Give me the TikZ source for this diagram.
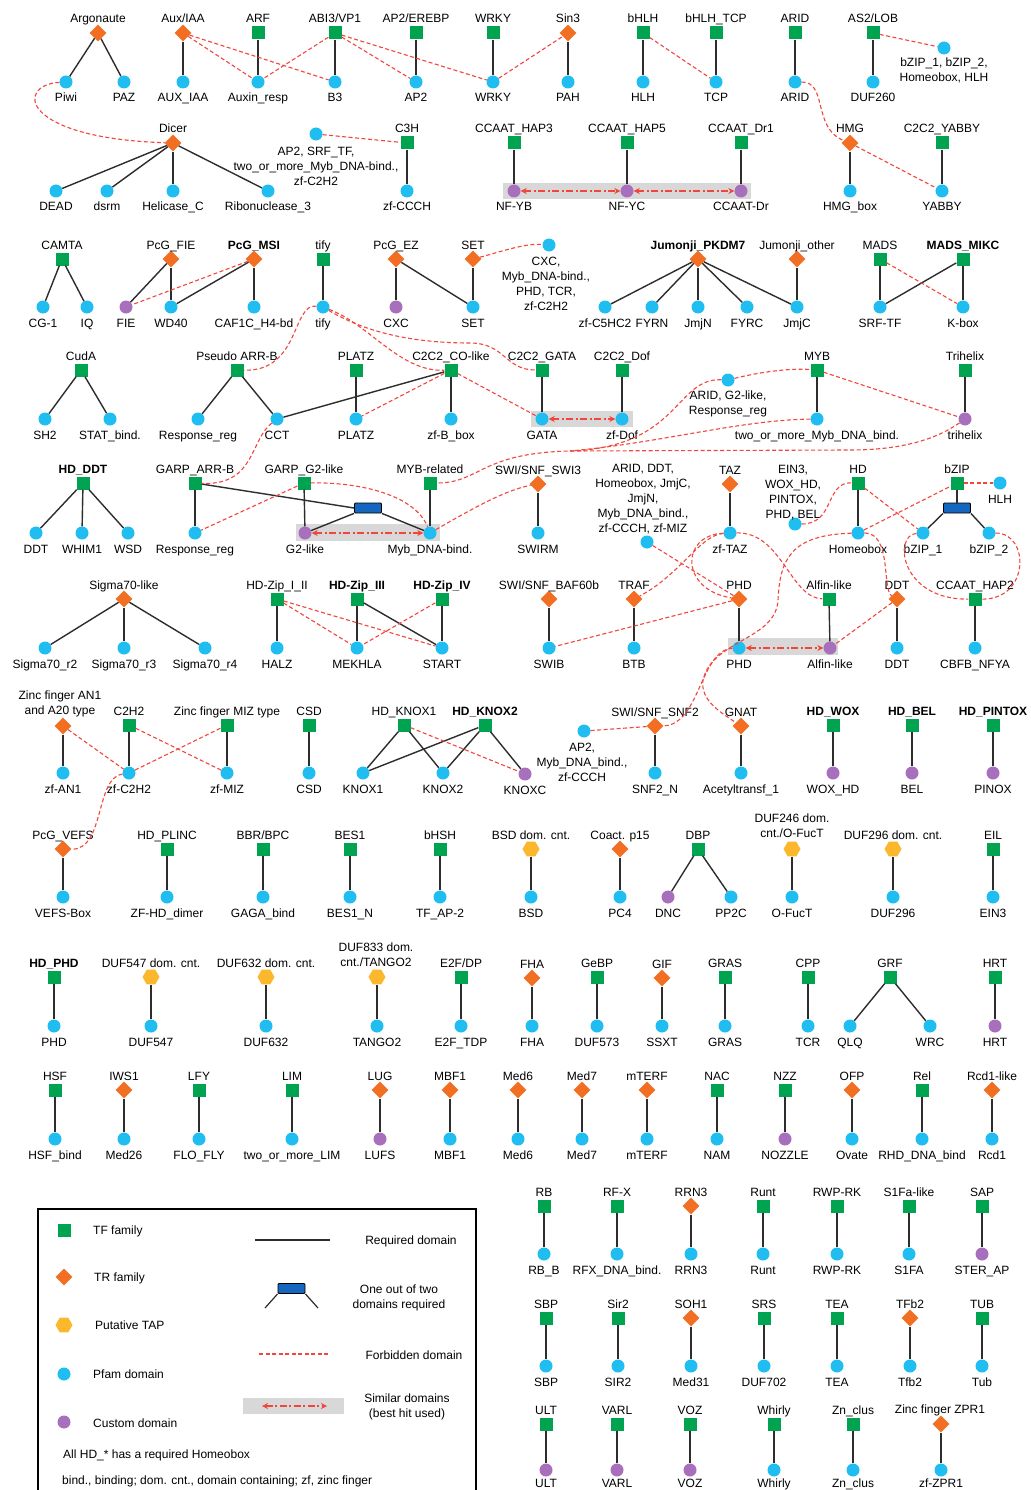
\documentclass[tikz,border=0pt]{standalone}
\usepackage{fontspec}
\setmainfont{Liberation Sans}
\usetikzlibrary{shapes.geometric,arrows.meta}
\definecolor{cTF}{RGB}{0,163,80}
\definecolor{cTR}{RGB}{242,110,34}
\definecolor{cTAP}{RGB}{252,184,44}
\definecolor{cPF}{RGB}{32,190,240}
\definecolor{cCU}{RGB}{168,112,188}
\definecolor{cREQ}{RGB}{45,45,45}
\definecolor{cFB}{RGB}{242,70,60}
\definecolor{cBand}{RGB}{216,216,216}
\definecolor{cOne}{RGB}{20,102,190}
\newcommand{\lblfont}{\fontsize{12}{15}\selectfont}
\newcommand{\Fam}[5]{\node[#2] (#1) at (#3,#4) {}; \node[lbl] (#1l) at (#3,#4-10) {#5};}
\newcommand{\Dom}[5]{\node[#2] (#1) at (#3,#4) {}; \node[lbl] (#1l) at (#3,#4+20) {#5};}
\newcommand{\DomB}[5]{\node[#2] (#1) at (#3,#4) {}; \node[lbl] (#1l) at (#3,#4+17) {#5};}
\tikzset{
 nTF/.style={rectangle, fill=cTF, minimum size=13pt, inner sep=0pt},
 nTR/.style={diamond, fill=cTR, minimum size=17pt, inner sep=0pt},
 nTAP/.style={regular polygon, regular polygon sides=6, fill=cTAP, minimum size=17pt, inner sep=0pt},
 nPF/.style={circle, fill=cPF, minimum size=13pt, inner sep=0pt},
 nCU/.style={circle, fill=cCU, minimum size=13pt, inner sep=0pt},
 lbl/.style={font=\lblfont, inner sep=0pt, anchor=base},
 mlbl/.style={font=\lblfont, inner sep=0pt, align=center, anchor=north},
 req/.style={draw=cREQ, line width=1.4pt},
 forb/.style={draw=cFB, line width=1.1pt, dash pattern=on 4pt off 2.5pt},
 sim/.style={draw=cFB, line width=1.6pt, dash pattern=on 7pt off 2.5pt on 2pt off 2.5pt, {Stealth[length=6pt,width=6pt]}-{Stealth[length=6pt,width=6pt]}},
 oneof/.style={rectangle, draw=black, fill=cOne, minimum width=27pt, minimum height=10pt, inner sep=0pt, rounded corners=1pt, line width=0.8pt},
}
\begin{document}
\catcode`\_=12
\begin{tikzpicture}[x=1pt,y=-1pt]
\useasboundingbox (0,0) rectangle (1030,1490);
\fill[white] (0,0) rectangle (1030,1490);
% similarity bands
\fill[cBand] (503,183) rectangle (751,199);
\fill[cBand] (531,411) rectangle (633,427);
\fill[cBand] (296,524) rectangle (440,541);
\fill[cBand] (728,638) rectangle (838,655);

% ---------- Row A
\Fam{ago}{nTR}{98}{33}{Argonaute}
\Dom{piwi}{nPF}{66}{82}{Piwi}
\Dom{paz}{nPF}{124}{82}{PAZ}
\Fam{auxiaa}{nTR}{183}{33}{Aux/IAA}
\Dom{dauxiaa}{nPF}{183}{82}{AUX_IAA}
\Fam{arf}{nTF}{258}{33}{ARF}
\Dom{auxresp}{nPF}{258}{82}{Auxin_resp}
\Fam{abi}{nTF}{335}{33}{ABI3/VP1}
\Dom{bthree}{nPF}{335}{82}{B3}
\Fam{ereb}{nTF}{416}{33}{AP2/EREBP}
\Dom{aptwo}{nPF}{416}{82}{AP2}
\Fam{wrky}{nTF}{493}{33}{WRKY}
\Dom{dwrky}{nPF}{493}{82}{WRKY}
\Fam{sin}{nTR}{568}{33}{Sin3}
\Dom{pah}{nPF}{568}{82}{PAH}
\Fam{bhlh}{nTF}{643}{33}{bHLH}
\Dom{hlh}{nPF}{643}{82}{HLH}
\Fam{tcp}{nTF}{716}{33}{bHLH_TCP}
\Dom{dtcp}{nPF}{716}{82}{TCP}
\Fam{arid}{nTF}{795}{33}{ARID}
\Dom{darid}{nPF}{795}{82}{ARID}
\Fam{lob}{nTF}{873}{33}{AS2/LOB}
\Dom{duf260}{nPF}{873}{82}{DUF260}
\node[nPF] (lobx) at (944,48) {};
\node[mlbl] (lobxl) at (944,58) {bZIP_1, bZIP_2,\\Homeobox, HLH};

% ---------- Row B
\Fam{dicer}{nTR}{173}{143}{Dicer}
\Dom{dead}{nPF}{56}{191}{DEAD}
\Dom{dsrm}{nPF}{107}{191}{dsrm}
\Dom{helic}{nPF}{173}{191}{Helicase_C}
\Dom{ribo}{nPF}{268}{191}{Ribonuclease_3}
\node[nPF] (cthx) at (316,134) {};
\node[mlbl] (cthxl) at (316,147) {AP2, SRF_TF,\\two_or_more_Myb_DNA-bind.,\\zf-C2H2};
\Fam{cth}{nTF}{407}{143}{C3H}
\Dom{zfccch}{nPF}{407}{191}{zf-CCCH}
\Fam{hapthree}{nTF}{514}{143}{CCAAT_HAP3}
\Dom{nfyb}{nCU}{514}{191}{NF-YB}
\Fam{hapfive}{nTF}{627}{143}{CCAAT_HAP5}
\Dom{nfyc}{nCU}{627}{191}{NF-YC}
\Fam{drone}{nTF}{741}{143}{CCAAT_Dr1}
\Dom{ccaatdr}{nCU}{741}{191}{CCAAT-Dr}
\Fam{hmg}{nTR}{850}{143}{HMG}
\Dom{hmgbox}{nPF}{850}{191}{HMG_box}
\Fam{yabby}{nTF}{942}{143}{C2C2_YABBY}
\Dom{dyabby}{nPF}{942}{191}{YABBY}

% ---------- Row C
\Fam{camta}{nTF}{62}{259}{CAMTA}
\Dom{cgone}{nPF}{43}{307}{CG-1}
\Dom{iq}{nPF}{87}{307}{IQ}
\Fam{fief}{nTR}{171}{259}{PcG_FIE}
\Dom{fie}{nCU}{126}{307}{FIE}
\Dom{wd}{nPF}{171}{307}{WD40}
\Fam{msi}{nTR}{254}{259}{\textbf{PcG_MSI}}
\Dom{caf}{nPF}{254}{307}{CAF1C_H4-bd}
\Fam{tify}{nTF}{323}{259}{tify}
\Dom{dtify}{nPF}{323}{307}{tify}
\Fam{ez}{nTR}{396}{259}{PcG_EZ}
\Dom{cxc}{nCU}{396}{307}{CXC}
\Fam{setf}{nTR}{473}{259}{SET}
\Dom{dset}{nPF}{473}{307}{SET}
\node[nPF] (setx) at (549,245) {};
\node[mlbl] (setxl) at (546,256.5) {CXC,\\Myb_DNA-bind.,\\PHD, TCR,\\zf-C2H2};
\Fam{pkdm}{nTR}{698}{259}{\textbf{Jumonji_PKDM7}}
\Dom{zfc}{nPF}{605}{307}{zf-C5HC2}
\Dom{fyrn}{nPF}{652}{307}{FYRN}
\Dom{jmjn}{nPF}{698}{307}{JmjN}
\Dom{fyrc}{nPF}{747}{307}{FYRC}
\Dom{jmjc}{nPF}{797}{307}{JmjC}
\Fam{jother}{nTR}{797}{259}{Jumonji_other}
\Fam{mads}{nTF}{880}{259}{MADS}
\Dom{srf}{nPF}{880}{307}{SRF-TF}
\Fam{mikc}{nTF}{963}{259}{\textbf{MADS_MIKC}}
\Dom{kbox}{nPF}{963}{307}{K-box}

% ---------- Row D
\Fam{cuda}{nTF}{81}{370}{CudA}
\Dom{shtwo}{nPF}{45}{419}{SH2}
\Dom{stat}{nPF}{110}{419}{STAT_bind.}
\Fam{parrb}{nTF}{237}{370}{Pseudo ARR-B}
\Dom{rrone}{nPF}{198}{419}{Response_reg}
\Dom{cct}{nPF}{277}{419}{CCT}
\Fam{platz}{nTF}{356}{370}{PLATZ}
\Dom{dplatz}{nPF}{356}{419}{PLATZ}
\Fam{coco}{nTF}{451}{370}{C2C2_CO-like}
\Dom{bbox}{nPF}{451}{419}{zf-B_box}
\Fam{gata}{nTF}{542}{370}{C2C2_GATA}
\Dom{dgata}{nPF}{542}{419}{GATA}
\Fam{dof}{nTF}{622}{370}{C2C2_Dof}
\Dom{ddof}{nPF}{622}{419}{zf-Dof}
\node[nPF] (mybx) at (728,380) {};
\node[mlbl] (mybxl) at (728,390.5) {ARID, G2-like,\\Response_reg};
\Fam{myb}{nTF}{817}{370}{MYB}
\Dom{dmyb}{nPF}{817}{419}{two_or_more_Myb_DNA_bind.}
\Fam{trih}{nTF}{965}{370}{Trihelix}
\Dom{dtrih}{nCU}{965}{419}{trihelix}

% ---------- Row E
\Fam{hdddt}{nTF}{83}{483}{\textbf{HD_DDT}}
\Dom{ddt}{nPF}{36}{533}{DDT}
\Dom{whim}{nPF}{82}{533}{WHIM1}
\Dom{wsd}{nPF}{128}{533}{WSD}
\Fam{garrb}{nTF}{195}{483}{GARP_ARR-B}
\Dom{rrtwo}{nPF}{195}{533}{Response_reg}
\Fam{gtwo}{nTF}{304}{483}{GARP_G2-like}
\Dom{dgtwo}{nCU}{305}{533}{G2-like}
\node[oneof] (orone) at (368,508) {};
\Fam{mybrel}{nTF}{430}{483}{MYB-related}
\Dom{mybdb}{nPF}{430}{533}{Myb_DNA-bind.}
\Fam{swithree}{nTR}{538}{484}{SWI/SNF_SWI3}
\Dom{swirm}{nPF}{538}{533}{SWIRM}
\node[nPF] (phdx) at (647,542) {};
\node[mlbl] (phdxl) at (643,464.5) {ARID, DDT,\\Homeobox, JmjC,\\JmjN,\\Myb_DNA_bind.,\\zf-CCCH, zf-MIZ};
\Fam{taz}{nTR}{730}{484}{TAZ}
\Dom{ztaz}{nPF}{730}{533}{zf-TAZ}
\node[nPF] (hdx) at (795,524) {};
\node[mlbl] (hdxl) at (793,464.5) {EIN3,\\WOX_HD,\\PINTOX,\\PHD, BEL};
\Fam{hd}{nTF}{858}{483}{HD}
\Dom{homeo}{nPF}{858}{533}{Homeobox}
\Fam{bzip}{nTF}{957}{483}{bZIP}
\node[oneof] (ortwo) at (957,508) {};
\Dom{bzipone}{nPF}{923}{533}{bZIP_1}
\Dom{bziptwo}{nPF}{989}{533}{bZIP_2}
\node[nPF] (hlhx) at (1000,483) {};
\node[lbl] (hlhxl) at (1000,503) {HLH};

% ---------- Row F
\Fam{sigma}{nTR}{124}{599}{Sigma70-like}
\Dom{rtwo}{nPF}{45}{648}{Sigma70_r2}
\Dom{rthree}{nPF}{124}{648}{Sigma70_r3}
\Dom{rfour}{nPF}{205}{648}{Sigma70_r4}
\Fam{hzone}{nTF}{277}{599}{HD-Zip_I_II}
\Dom{halz}{nPF}{277}{648}{HALZ}
\Fam{hzthree}{nTF}{357}{599}{\textbf{HD-Zip_III}}
\Dom{mekhla}{nPF}{357}{648}{MEKHLA}
\Fam{hzfour}{nTF}{442}{599}{\textbf{HD-Zip_IV}}
\Dom{start}{nPF}{442}{648}{START}
\Fam{baf}{nTR}{549}{599}{SWI/SNF_BAF60b}
\Dom{swib}{nPF}{549}{648}{SWIB}
\Fam{traf}{nTR}{634}{599}{TRAF}
\Dom{btb}{nPF}{634}{648}{BTB}
\Fam{phdf}{nTR}{739}{599}{PHD}
\Dom{dphd}{nPF}{739}{648}{PHD}
\Fam{alfin}{nTF}{829}{599}{Alfin-like}
\Dom{dalfin}{nCU}{830}{648}{Alfin-like}
\Fam{ddtf}{nTR}{897}{599}{DDT}
\Dom{dddt}{nPF}{897}{648}{DDT}
\Fam{haptwo}{nTF}{975}{599}{CCAAT_HAP2}
\Dom{cbfb}{nPF}{975}{648}{CBFB_NFYA}

% ---------- Row G
\node[nTR] (anone) at (63,726) {};
\node[mlbl] (anonel) at (60,690.5) {Zinc finger AN1\\and A20 type};
\Dom{zfan}{nPF}{63}{773}{zf-AN1}
\Fam{ctwoh}{nTF}{129}{725}{C2H2}
\Dom{zfctwoh}{nPF}{129}{773}{zf-C2H2}
\Fam{miz}{nTF}{227}{725}{Zinc finger MIZ type}
\Dom{zfmiz}{nPF}{227}{773}{zf-MIZ}
\Fam{csd}{nTF}{309}{725}{CSD}
\Dom{dcsd}{nPF}{309}{773}{CSD}
\Fam{knone}{nTF}{404}{725}{HD_KNOX1}
\Dom{dknone}{nPF}{363}{773}{KNOX1}
\Dom{dkntwo}{nPF}{443}{773}{KNOX2}
\Fam{kntwo}{nTF}{485}{725}{\textbf{HD_KNOX2}}
\Dom{knoxc}{nCU}{525}{774}{KNOXC}
\node[nPF] (snfx) at (584,731) {};
\node[mlbl] (snfxl) at (582,742.5) {AP2,\\Myb_DNA_bind.,\\zf-CCCH};
\Fam{snftwo}{nTR}{655}{726}{SWI/SNF_SNF2}
\Dom{snfn}{nPF}{655}{773}{SNF2_N}
\Fam{gnat}{nTR}{741}{726}{GNAT}
\Dom{acetyl}{nPF}{741}{773}{Acetyltransf_1}
\Fam{wox}{nTF}{833}{725}{\textbf{HD_WOX}}
\Dom{dwox}{nCU}{833}{773}{WOX_HD}
\Fam{bel}{nTF}{912}{725}{\textbf{HD_BEL}}
\Dom{dbel}{nCU}{912}{773}{BEL}
\Fam{pintox}{nTF}{993}{725}{\textbf{HD_PINTOX}}
\Dom{pinox}{nCU}{993}{773}{PINOX}

% ---------- Row H
\Fam{vefs}{nTR}{63}{849}{PcG_VEFS}
\Dom{vefsbox}{nPF}{63}{897}{VEFS-Box}
\Fam{plinc}{nTF}{167}{849}{HD_PLINC}
\Dom{zfhd}{nPF}{167}{897}{ZF-HD_dimer}
\Fam{bbr}{nTF}{263}{849}{BBR/BPC}
\Dom{gaga}{nPF}{263}{897}{GAGA_bind}
\Fam{bes}{nTF}{350}{849}{BES1}
\Dom{besn}{nPF}{350}{897}{BES1_N}
\Fam{bhsh}{nTF}{440}{849}{bHSH}
\Dom{tfap}{nPF}{440}{897}{TF_AP-2}
\Fam{bsd}{nTAP}{531}{849}{BSD dom. cnt.}
\Dom{dbsd}{nPF}{531}{897}{BSD}
\Fam{coact}{nTR}{620}{849}{Coact. p15}
\Dom{pcfour}{nPF}{620}{897}{PC4}
\Fam{dbp}{nTF}{698}{849}{DBP}
\Dom{dnc}{nCU}{668}{897}{DNC}
\Dom{pptwoc}{nPF}{731}{897}{PP2C}
\node[nTAP] (dufa) at (792,849) {};
\node[mlbl] (dufal) at (792,813.5) {DUF246 dom.\\cnt./O-FucT};
\Dom{ofuct}{nPF}{792}{897}{O-FucT}
\Fam{dufb}{nTAP}{893}{849}{DUF296 dom. cnt.}
\Dom{dufbd}{nPF}{893}{897}{DUF296}
\Fam{eil}{nTF}{993}{849}{EIL}
\Dom{einthree}{nPF}{993}{897}{EIN3}

% ---------- Row I
\Fam{hdphd}{nTF}{54}{977}{\textbf{HD_PHD}}
\Dom{hdphdd}{nPF}{54}{1026}{PHD}
\Fam{dufc}{nTAP}{151}{977}{DUF547 dom. cnt.}
\Dom{dufcd}{nPF}{151}{1026}{DUF547}
\Fam{dufd}{nTAP}{266}{977}{DUF632 dom. cnt.}
\Dom{dufdd}{nPF}{266}{1026}{DUF632}
\node[nTAP] (dufe) at (377,977) {};
\node[mlbl] (dufel) at (376,942.5) {DUF833 dom.\\cnt./TANGO2};
\Dom{tango}{nPF}{377}{1026}{TANGO2}
\Fam{etwof}{nTF}{461}{977}{E2F/DP}
\Dom{etwoftdp}{nPF}{461}{1026}{E2F_TDP}
\Fam{fha}{nTR}{532}{978}{FHA}
\Dom{dfha}{nPF}{532}{1026}{FHA}
\Fam{gebp}{nTF}{597}{977}{GeBP}
\Dom{dufsev}{nPF}{597}{1026}{DUF573}
\Fam{gif}{nTR}{662}{978}{GIF}
\Dom{ssxt}{nPF}{662}{1026}{SSXT}
\Fam{gras}{nTF}{725}{977}{GRAS}
\Dom{dgras}{nPF}{725}{1026}{GRAS}
\Fam{cpp}{nTF}{808}{977}{CPP}
\Dom{tcr}{nPF}{808}{1026}{TCR}
\Fam{grf}{nTF}{890}{977}{GRF}
\Dom{qlq}{nPF}{850}{1026}{QLQ}
\Dom{wrc}{nPF}{930}{1026}{WRC}
\Fam{hrt}{nTF}{995}{977}{HRT}
\Dom{dhrt}{nCU}{995}{1026}{HRT}

% ---------- Row J
\Fam{hsf}{nTF}{55}{1090}{HSF}
\Dom{hsfb}{nPF}{55}{1139}{HSF_bind}
\Fam{iws}{nTR}{124}{1090}{IWS1}
\Dom{medts}{nPF}{124}{1139}{Med26}
\Fam{lfy}{nTF}{199}{1090}{LFY}
\Dom{flo}{nPF}{199}{1139}{FLO_FLY}
\Fam{lim}{nTF}{292}{1090}{LIM}
\Dom{dlim}{nPF}{292}{1139}{two_or_more_LIM}
\Fam{lug}{nTR}{380}{1090}{LUG}
\Dom{lufs}{nCU}{380}{1139}{LUFS}
\Fam{mbf}{nTR}{450}{1090}{MBF1}
\Dom{dmbf}{nPF}{450}{1139}{MBF1}
\Fam{medsix}{nTR}{518}{1090}{Med6}
\Dom{dmedsix}{nPF}{518}{1139}{Med6}
\Fam{medsev}{nTR}{582}{1090}{Med7}
\Dom{dmedsev}{nPF}{582}{1139}{Med7}
\Fam{mterf}{nTR}{647}{1090}{mTERF}
\Dom{dmterf}{nPF}{647}{1139}{mTERF}
\Fam{nac}{nTF}{717}{1090}{NAC}
\Dom{nam}{nPF}{717}{1139}{NAM}
\Fam{nzz}{nTF}{785}{1090}{NZZ}
\Dom{nozzle}{nCU}{785}{1139}{NOZZLE}
\Fam{ofp}{nTR}{852}{1090}{OFP}
\Dom{ovate}{nPF}{852}{1139}{Ovate}
\Fam{rel}{nTF}{922}{1090}{Rel}
\Dom{rhd}{nPF}{922}{1139}{RHD_DNA_bind}
\Fam{rcd}{nTR}{992}{1090}{Rcd1-like}
\Dom{drcd}{nPF}{992}{1139}{Rcd1}

% ---------- Row K
\Fam{rb}{nTF}{544}{1206}{RB}
\Dom{rbb}{nPF}{544}{1254}{RB_B}
\Fam{rfx}{nTF}{617}{1206}{RF-X}
\Dom{drfx}{nPF}{617}{1254}{RFX_DNA_bind.}
\Fam{rrn}{nTR}{691}{1206}{RRN3}
\Dom{drrn}{nPF}{691}{1254}{RRN3}
\Fam{runt}{nTF}{763}{1206}{Runt}
\Dom{drunt}{nPF}{763}{1254}{Runt}
\Fam{rwp}{nTF}{837}{1206}{RWP-RK}
\Dom{drwp}{nPF}{837}{1254}{RWP-RK}
\Fam{sfa}{nTF}{909}{1206}{S1Fa-like}
\Dom{dsfa}{nPF}{909}{1254}{S1FA}
\Fam{sap}{nTF}{982}{1206}{SAP}
\Dom{ster}{nCU}{982}{1254}{STER_AP}

% ---------- Row L
\Fam{sbp}{nTF}{546}{1318}{SBP}
\Dom{dsbp}{nPF}{546}{1366}{SBP}
\Fam{sir}{nTF}{618}{1318}{Sir2}
\Dom{dsir}{nPF}{618}{1366}{SIR2}
\Fam{soh}{nTR}{691}{1318}{SOH1}
\Dom{medto}{nPF}{691}{1366}{Med31}
\Fam{srs}{nTF}{764}{1318}{SRS}
\Dom{dufsts}{nPF}{764}{1366}{DUF702}
\Fam{tea}{nTF}{837}{1318}{TEA}
\Dom{dtea}{nPF}{837}{1366}{TEA}
\Fam{tfb}{nTR}{910}{1318}{TFb2}
\Dom{dtfb}{nPF}{910}{1366}{Tfb2}
\Fam{tub}{nTF}{982}{1318}{TUB}
\Dom{dtub}{nPF}{982}{1366}{Tub}

% ---------- Row M
\Fam{ult}{nTF}{546}{1424}{ULT}
\DomB{dult}{nCU}{546}{1470}{ULT}
\Fam{varl}{nTF}{617}{1424}{VARL}
\DomB{dvarl}{nCU}{617}{1470}{VARL}
\Fam{voz}{nTF}{690}{1424}{VOZ}
\DomB{dvoz}{nCU}{690}{1470}{VOZ}
\Fam{whirly}{nTF}{774}{1424}{Whirly}
\DomB{dwhirly}{nPF}{774}{1470}{Whirly}
\Fam{znc}{nTF}{853}{1424}{Zn_clus}
\DomB{dznc}{nPF}{853}{1470}{Zn_clus}
\node[nTR] (zpr) at (941,1424) {};
\node[lbl] (zprl) at (940,1413) {Zinc finger ZPR1};
\DomB{dzpr}{nPF}{941}{1470}{zf-ZPR1}

% ================= required domains
\foreach \a/\b in {ago/piwi,ago/paz,auxiaa/dauxiaa,arf/auxresp,abi/bthree,ereb/aptwo,wrky/dwrky,sin/pah,bhlh/hlh,tcp/dtcp,arid/darid,lob/duf260,
 dicer/dead,dicer/dsrm,dicer/helic,dicer/ribo,cth/zfccch,hapthree/nfyb,hapfive/nfyc,drone/ccaatdr,hmg/hmgbox,yabby/dyabby,
 camta/cgone,camta/iq,fief/fie,fief/wd,msi/wd,msi/caf,tify/dtify,ez/cxc,ez/dset,setf/dset,pkdm/zfc,pkdm/fyrn,pkdm/jmjn,pkdm/fyrc,pkdm/jmjc,jother/jmjc,mads/srf,mikc/srf,mikc/kbox,
 cuda/shtwo,cuda/stat,parrb/rrone,parrb/cct,platz/dplatz,coco/bbox,coco/cct,gata/dgata,dof/ddof,myb/dmyb,trih/dtrih,
 hdddt/ddt,hdddt/whim,hdddt/wsd,garrb/rrtwo,gtwo/dgtwo,mybrel/mybdb,swithree/swirm,taz/ztaz,hd/homeo,
 sigma/rtwo,sigma/rthree,sigma/rfour,hzone/halz,hzthree/mekhla,hzthree/start,hzfour/start,baf/swib,traf/btb,phdf/dphd,alfin/dalfin,ddtf/dddt,haptwo/cbfb,
 anone/zfan,ctwoh/zfctwoh,miz/zfmiz,csd/dcsd,knone/dknone,knone/dkntwo,kntwo/dknone,kntwo/dkntwo,kntwo/knoxc,snftwo/snfn,gnat/acetyl,wox/dwox,bel/dbel,pintox/pinox,
 vefs/vefsbox,plinc/zfhd,bbr/gaga,bes/besn,bhsh/tfap,bsd/dbsd,coact/pcfour,dbp/dnc,dbp/pptwoc,dufa/ofuct,dufb/dufbd,eil/einthree,
 hdphd/hdphdd,dufc/dufcd,dufd/dufdd,dufe/tango,etwof/etwoftdp,fha/dfha,gebp/dufsev,gif/ssxt,gras/dgras,cpp/tcr,grf/qlq,grf/wrc,hrt/dhrt,
 hsf/hsfb,iws/medts,lfy/flo,lim/dlim,lug/lufs,mbf/dmbf,medsix/dmedsix,medsev/dmedsev,mterf/dmterf,nac/nam,nzz/nozzle,ofp/ovate,rel/rhd,rcd/drcd,
 rb/rbb,rfx/drfx,rrn/drrn,runt/drunt,rwp/drwp,sfa/dsfa,sap/ster,sbp/dsbp,sir/dsir,soh/medto,srs/dufsts,tea/dtea,tfb/dtfb,tub/dtub,
 ult/dult,varl/dvarl,voz/dvoz,whirly/dwhirly,znc/dznc,zpr/dzpr}
 {\draw[req] (\a) -- (\b);}
% one-out-of-two
\draw[req] (garrb) -- (orone.west);
\draw[req] (orone.south west) -- (dgtwo);
\draw[req] (orone.south east) -- (mybdb);
\draw[req] (bzip) -- (ortwo);
\draw[req] (ortwo.south west) -- (bzipone);
\draw[req] (ortwo.south east) -- (bziptwo);

% ================= forbidden domains
\draw[forb] (auxiaa) -- (auxresp);
\draw[forb] (auxiaa) -- (bthree);
\draw[forb] (abi) -- (auxresp);
\draw[forb] (abi) -- (aptwo);
\draw[forb] (abi) -- (dwrky);
\draw[forb] (dwrky) -- (sin);
\draw[forb] (bhlh) -- (dtcp);
\draw[forb] (lob) -- (lobx);
\draw[forb] (darid) .. controls (828,82) and (812,128) .. (hmg);
\draw[forb] (hmg) -- (dyabby);
\draw[forb] (piwi) .. controls (15,85) and (20,138) .. (dicer);
\draw[forb] (cthx) -- (cth);
\draw[forb] (msi) -- (fie);
\draw[forb] (setf) .. controls (500,252) and (525,243) .. (setx);
\draw[forb] (mads) -- (kbox);
\draw[forb] (dtify) .. controls (292,303) and (300,372) .. (parrb);
\draw[forb] (dtify) .. controls (370,325) and (400,372) .. (coco);
\draw[forb] (dtify) .. controls (370,335) and (420,343) .. (470,343) .. controls (505,343) and (505,370) .. (gata);
\draw[forb] (coco) -- (dplatz);
\draw[forb] (coco) -- (dgata);
\draw[forb] (mybx) .. controls (760,372) and (790,368) .. (myb);
\draw[forb] (myb) -- (dtrih);
\coordinate (mrj) at (570,451);
\draw[forb] (mybx) .. controls (675,378) and (680,447) .. (mrj) .. controls (480,453) and (480,483) .. (mybrel);
\draw[forb] (dmyb) .. controls (740,420) and (660,443) .. (mrj);
\draw[forb] (dtrih) .. controls (935,440) and (900,450) .. (850,450) -- (mrj);
\draw[forb] (cct) .. controls (250,440) and (255,486) .. (garrb);
\draw[forb] (gtwo) -- (rrtwo);
\draw[forb] (gtwo) .. controls (360,482) and (415,495) .. (mybdb);
\draw[forb] (mybdb) .. controls (470,510) and (505,490) .. (swithree);
\draw[forb] (phdx) -- (phdf);
\draw[forb] (ztaz) .. controls (700,535) and (680,575) .. (traf);
\draw[forb] (ztaz) .. controls (680,535) and (680,590) .. (phdf);
\draw[forb] (ztaz) .. controls (782,532) and (790,598) .. (alfin);
\draw[forb] (homeo) .. controls (790,535) and (780,560) .. (778,600) .. controls (776,640) and (712,640) .. (703,680) .. controls (700,700) and (720,712) .. (gnat);
\draw[forb] (hdx) .. controls (835,524) and (825,482) .. (hd);
\draw[forb] (hd) -- (bzipone);
\draw[forb] (homeo) -- (bzip);
\draw[forb] (bzip) -- (hlhx);
\draw[forb] (homeo) .. controls (892,533) and (882,590) .. (ddtf);
\draw[forb] (ddtf) -- (dalfin);
\draw[forb] (bzipone) .. controls (893,535) and (900,600) .. (haptwo);
\draw[forb] (bziptwo) .. controls (1030,533) and (1030,600) .. (haptwo);
\draw[forb] (phdf) -- (swib);
\draw[forb] (hzone) -- (mekhla);
\draw[forb] (hzone) -- (start);
\draw[forb] (hzfour) -- (mekhla);
\draw[forb] (dphd) .. controls (700,650) and (700,725) .. (snftwo);
\draw[forb] (snfx) -- (snftwo);
\draw[forb] (anone) -- (zfctwoh);
\draw[forb] (ctwoh) -- (zfmiz);
\draw[forb] (miz) -- (zfctwoh);
\draw[forb] (zfctwoh) .. controls (95,778) and (105,850) .. (vefs);
\draw[forb] (knone) -- (knoxc);

% ================= similar domains
\draw[sim] (nfyb) -- (nfyc);
\draw[sim] (nfyc) -- (ccaatdr);
\draw[sim] (dgata) -- (ddof);
\draw[sim] (dgtwo) -- (mybdb);
\draw[sim] (dphd) -- (dalfin);

% ================= legend
\draw[line width=1.8pt] (38,1209) rectangle (476,1530);
\node[nTF] (lgtf) at (64,1230) {};
\node[lbl, anchor=base west] (lgtft) at (93,1234) {TF family};
\node[nTR] (lgtr) at (64,1277) {};
\node[lbl, anchor=base west] (lgtrt) at (94,1281) {TR family};
\node[nTAP] (lgtap) at (64,1325) {};
\node[lbl, anchor=base west] (lgtapt) at (95,1329) {Putative TAP};
\node[nPF] (lgpf) at (64,1374) {};
\node[lbl, anchor=base west] (lgpft) at (93,1378) {Pfam domain};
\node[nCU] (lgcu) at (64,1422) {};
\node[lbl, anchor=base west] (lgcut) at (93,1427) {Custom domain};
\node[lbl, anchor=base west] (lghd) at (63,1458) {All HD_* has a required Homeobox};
\node[lbl, anchor=base west] (lgab) at (62,1484) {bind., binding; dom. cnt., domain containing; zf, zinc finger};
\coordinate (lra) at (255,1240);
\coordinate (lrb) at (330,1240);
\draw[req] (lra) -- (lrb);
\node[lbl] (lreqt) at (411,1244) {Required domain};
\node[oneof] (lgone) at (291.5,1288.5) {};
\coordinate (lla) at (265,1308);
\coordinate (llb) at (318,1308);
\draw[req, line width=1.2pt] (lla) -- (lgone.south west);
\draw[req, line width=1.2pt] (lgone.south east) -- (llb);
\node[mlbl] (lgonet) at (399,1284.5) {One out of two\\domains required};
\coordinate (lfa) at (259,1354);
\coordinate (lfb) at (330,1354);
\draw[forb] (lfa) -- (lfb);
\node[lbl] (lgforbt) at (414,1359) {Forbidden domain};
\fill[cBand] (243,1398) rectangle (344,1414);
\coordinate (lsa) at (262,1406);
\coordinate (lsb) at (327,1406);
\draw[sim] (lsa) -- (lsb);
\node[mlbl] (lgsimt) at (407,1393.5) {Similar domains\\(best hit used)};
\end{tikzpicture}
\end{document}
